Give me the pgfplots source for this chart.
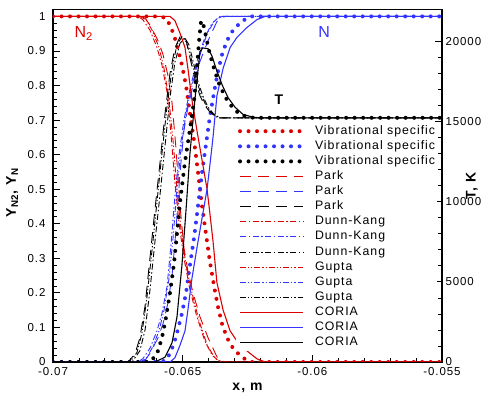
\documentclass[border=0pt]{standalone}
\usepackage{fontspec}
\setmainfont{Liberation Sans}[LetterSpace=8]
\usepackage{pgfplots}
\pgfplotsset{compat=1.18}
\definecolor{cred}{RGB}{221,0,0}
\definecolor{cblue}{RGB}{51,51,255}
\newcommand{\fs}{\fontsize{11.5bp}{13bp}\selectfont}
\newcommand{\fl}{\fontsize{12.3bp}{14bp}\selectfont}
\newcommand{\fb}{\fontsize{14bp}{16bp}\selectfont\bfseries}
\tikzset{
 vs/.style={line width=4bp, dash pattern=on 0bp off 8.5bp, line cap=round},
 pk/.style={line width=0.9bp, dash pattern=on 11bp off 7bp},
 dk/.style={line width=0.9bp, dash pattern=on 6bp off 2.5bp on 1.5bp off 2.5bp},
 gu/.style={line width=0.9bp, dash pattern=on 6bp off 2bp on 1.2bp off 2bp on 1.2bp off 2bp},
 co/.style={line width=1.1bp},
}
% Y_N2 (red) and Y_N (blue)
\pgfplotstableread{
x y
-0.07000 1.0
-0.06626 1.0
-0.06587 1.0
-0.06564 0.995
-0.06549 0.975
-0.06533 0.945
-0.06518 0.905
-0.06503 0.86
-0.06487 0.80
-0.06472 0.72
-0.06456 0.64
-0.06441 0.55
-0.06425 0.45
-0.06410 0.37
-0.06395 0.29
-0.06379 0.22
-0.06364 0.16
-0.06348 0.11
-0.06329 0.07
-0.06306 0.04
-0.06271 0.013
-0.06233 0.0
-0.05500 0.0
}\rVS
\pgfplotstableread{
x y
-0.07000 0.0
-0.06626 0.0
-0.06587 0.0
-0.06564 0.005
-0.06549 0.025
-0.06533 0.055
-0.06518 0.095
-0.06503 0.14
-0.06487 0.20
-0.06472 0.28
-0.06456 0.36
-0.06441 0.45
-0.06425 0.55
-0.06410 0.63
-0.06395 0.71
-0.06379 0.78
-0.06364 0.84
-0.06348 0.89
-0.06329 0.93
-0.06306 0.96
-0.06271 0.987
-0.06233 1.0
-0.05500 1.0
}\bVS
\pgfplotstableread{
x y
-0.07000 1.0
-0.06549 1.0
-0.06530 0.988
-0.06510 0.951
-0.06491 0.91
-0.06479 0.845
-0.06464 0.757
-0.06445 0.67
-0.06425 0.583
-0.06406 0.50
-0.06395 0.43
-0.06383 0.35
-0.06368 0.23
-0.06344 0.15
-0.06317 0.09
-0.06291 0.061
-0.06252 0.032
-0.06213 0.009
-0.06182 0.0
-0.05500 0.0
}\rCO
\pgfplotstableread{
x y
-0.07000 0.0
-0.06549 0.0
-0.06530 0.012
-0.06510 0.049
-0.06491 0.09
-0.06479 0.155
-0.06464 0.243
-0.06445 0.33
-0.06425 0.417
-0.06406 0.50
-0.06395 0.57
-0.06383 0.65
-0.06368 0.77
-0.06344 0.85
-0.06317 0.91
-0.06291 0.939
-0.06252 0.968
-0.06213 0.991
-0.06182 1.0
-0.05500 1.0
}\bCO
\pgfplotstableread{
x y
-0.07000 1.0
-0.06665 1.0
-0.06645 0.995
-0.06626 0.975
-0.06595 0.93
-0.06576 0.89
-0.06557 0.83
-0.06541 0.75
-0.06526 0.62
-0.06510 0.45
-0.06495 0.33
-0.06479 0.26
-0.06460 0.20
-0.06433 0.13
-0.06402 0.07
-0.06368 0.015
-0.06337 0.0
-0.05500 0.0
}\rPK
\pgfplotstableread{
x y
-0.07000 0.0
-0.06665 0.0
-0.06645 0.005
-0.06626 0.025
-0.06595 0.07
-0.06576 0.11
-0.06557 0.17
-0.06541 0.25
-0.06526 0.38
-0.06510 0.55
-0.06495 0.67
-0.06479 0.74
-0.06460 0.80
-0.06433 0.87
-0.06402 0.93
-0.06368 0.985
-0.06337 1.0
-0.05500 1.0
}\bPK
\pgfplotstableread{
x y
-0.07000 1.0
-0.06672 1.0
-0.06653 0.99
-0.06626 0.96
-0.06599 0.91
-0.06580 0.86
-0.06560 0.78
-0.06545 0.66
-0.06530 0.52
-0.06514 0.40
-0.06495 0.30
-0.06472 0.21
-0.06445 0.13
-0.06414 0.06
-0.06387 0.02
-0.06356 0.0
-0.05500 0.0
}\rDK
\pgfplotstableread{
x y
-0.07000 0.0
-0.06672 0.0
-0.06653 0.01
-0.06626 0.04
-0.06599 0.09
-0.06580 0.14
-0.06560 0.22
-0.06545 0.34
-0.06530 0.48
-0.06514 0.60
-0.06495 0.70
-0.06472 0.79
-0.06445 0.87
-0.06414 0.94
-0.06387 0.98
-0.06356 1.0
-0.05500 1.0
}\bDK
\pgfplotstableread{
x y
-0.07000 1.0
-0.06665 1.0
-0.06641 0.99
-0.06618 0.96
-0.06591 0.91
-0.06572 0.85
-0.06553 0.76
-0.06537 0.64
-0.06522 0.50
-0.06506 0.38
-0.06487 0.28
-0.06464 0.20
-0.06437 0.12
-0.06406 0.05
-0.06375 0.01
-0.06348 0.0
-0.05500 0.0
}\rGU
\pgfplotstableread{
x y
-0.07000 0.0
-0.06665 0.0
-0.06641 0.01
-0.06618 0.04
-0.06591 0.09
-0.06572 0.15
-0.06553 0.24
-0.06537 0.36
-0.06522 0.50
-0.06506 0.62
-0.06487 0.72
-0.06464 0.80
-0.06437 0.88
-0.06406 0.95
-0.06375 0.99
-0.06348 1.0
-0.05500 1.0
}\bGU
% Temperature, K
\pgfplotstableread{
x T
-0.07000 0
-0.06626 0
-0.06599 500
-0.06580 1500
-0.06564 2800
-0.06549 4300
-0.06533 6200
-0.06522 8000
-0.06510 10000
-0.06491 12500
-0.06472 14500
-0.06456 16300
-0.06445 18300
-0.06437 20000
-0.06429 21300
-0.06422 21200
-0.06410 20300
-0.06395 19200
-0.06375 18100
-0.06356 17200
-0.06329 16350
-0.06306 15850
-0.06279 15450
-0.06248 15280
-0.06221 15240
-0.05500 15240
}\kVS
\pgfplotstableread{
x T
-0.07000 0
-0.06607 0
-0.06568 300
-0.06541 1200
-0.06522 2800
-0.06503 6000
-0.06487 9500
-0.06472 13000
-0.06452 16500
-0.06433 19400
-0.06422 19600
-0.06402 19550
-0.06387 19100
-0.06371 18300
-0.06348 17300
-0.06325 16500
-0.06298 15900
-0.06267 15450
-0.06229 15280
-0.06202 15240
-0.05500 15240
}\kCO
\pgfplotstableread{
x T
-0.07000 0
-0.06711 0
-0.06684 500
-0.06665 1500
-0.06645 3500
-0.06626 6500
-0.06607 9500
-0.06587 12500
-0.06568 15500
-0.06549 18000
-0.06530 19600
-0.06510 20300
-0.06499 20400
-0.06487 20100
-0.06472 19000
-0.06452 17600
-0.06433 16600
-0.06414 16000
-0.06395 15600
-0.06375 15350
-0.06356 15240
-0.05500 15240
}\kPK
\pgfplotstableread{
x T
-0.07000 0
-0.06695 0
-0.06665 700
-0.06645 2000
-0.06626 4500
-0.06607 7500
-0.06587 10500
-0.06568 13500
-0.06549 16500
-0.06530 18700
-0.06510 19900
-0.06491 20200
-0.06476 19800
-0.06460 18800
-0.06441 17500
-0.06422 16600
-0.06402 15900
-0.06379 15450
-0.06356 15240
-0.05500 15240
}\kDK
\pgfplotstableread{
x T
-0.07000 0
-0.06703 0
-0.06676 600
-0.06657 1800
-0.06638 4000
-0.06618 7000
-0.06599 10000
-0.06580 13000
-0.06560 16000
-0.06541 18300
-0.06522 19800
-0.06503 20300
-0.06487 20000
-0.06468 19000
-0.06449 17700
-0.06429 16700
-0.06410 16000
-0.06387 15500
-0.06364 15240
-0.05500 15240
}\kGU
\begin{document}
\begin{tikzpicture}
\path[use as bounding box] (-53bp,-36bp) rectangle (434bp,362bp);
\pgfplotsset{
 common/.style={
  at={(0,0)}, anchor=south west, scale only axis,
  width=389bp, height=352.5bp,
  xmin=-0.07, xmax=-0.055,
  scaled x ticks=false, scaled y ticks=false,
  tick align=inside,
  major tick length=7bp, minor tick length=4bp,
  tick style={black, line width=0.8bp},
  axis line style={line width=1.2bp},
  ticklabel style={font=\fs},
  label style={font=\fb},
  /pgf/number format/assume math mode=true,
 }
}
\begin{axis}[common,
 ymin=0, ymax=1.02,
 xtick={-0.07,-0.065,-0.06,-0.055},
 xticklabels={-0.07,-0.065,-0.06,-0.055},
 minor x tick num=4,
 ytick={0,0.1,0.2,0.3,0.4,0.5,0.6,0.7,0.8,0.9,1},
 yticklabels={0,0.1,0.2,0.3,0.4,0.5,0.6,0.7,0.8,0.9,1},
 minor y tick num=4,
 xtick pos=left, ytick pos=left,
 yticklabel style={xshift=-4bp},
 xticklabel style={yshift=-2bp},
 xlabel={x, m},
 xlabel style={at={(axis description cs:0.5,-0.074)}, anchor=center},
 ylabel={Y\textsubscript{N2}, Y\textsubscript{N}},
 ylabel style={at={(axis description cs:-0.105,0.48)}, anchor=center},
]
\addplot[cred, vs] table {\rVS};
\addplot[cblue, vs] table {\bVS};
\addplot[cred, pk] table {\rPK};
\addplot[cblue, pk] table {\bPK};
\addplot[cred, dk] table {\rDK};
\addplot[cblue, dk] table {\bDK};
\addplot[cred, gu] table {\rGU};
\addplot[cblue, gu] table {\bGU};
\addplot[cred, co] table {\rCO};
\addplot[cblue, co] table {\bCO};
\node[text=cred, font=\fontsize{16bp}{18bp}\selectfont, anchor=west] at (axis cs:-0.0693,0.951) {N\textsubscript{2}};
\node[text=cblue, font=\fontsize{16bp}{18bp}\selectfont, anchor=west] at (axis cs:-0.0599,0.954) {N};
\end{axis}
\begin{axis}[common,
 ymin=0, ymax=22000,
 axis x line=none, axis y line*=right,
 ytick={0,5000,10000,15000,20000},
 yticklabels={0,5000,10000,15000,20000},
 minor y tick num=4,
 ylabel={T, K},
 ylabel style={at={(axis description cs:1.077,0.5)}, anchor=center},
 legend cell align=left,
 legend image code/.code={\draw[#1] (0bp,0bp) -- (63bp,0bp);},
 legend style={at={(axis description cs:0.47,0.678)}, anchor=north west,
   draw=none, fill=white, inner sep=2bp, font=\fl, row sep=3.1bp,
   nodes={inner sep=0bp, text height=9bp, text depth=3bp},
   /tikz/every odd column/.append style={column sep=10bp}},
]
\addplot[black, vs, forget plot] table {\kVS};
\addplot[black, pk, forget plot] table {\kPK};
\addplot[black, dk, forget plot] table {\kDK};
\addplot[black, gu, forget plot] table {\kGU};
\addplot[black, co, forget plot] table {\kCO};
\node[font=\fontsize{14bp}{16bp}\selectfont\bfseries] at (axis cs:-0.06129,16400) {T};
\addlegendimage{cred, vs}\addlegendentry{Vibrational specific}
\addlegendimage{cblue, vs}\addlegendentry{Vibrational specific}
\addlegendimage{black, vs}\addlegendentry{Vibrational specific}
\addlegendimage{cred, pk}\addlegendentry{Park}
\addlegendimage{cblue, pk}\addlegendentry{Park}
\addlegendimage{black, pk}\addlegendentry{Park}
\addlegendimage{cred, dk}\addlegendentry{Dunn-Kang}
\addlegendimage{cblue, dk}\addlegendentry{Dunn-Kang}
\addlegendimage{black, dk}\addlegendentry{Dunn-Kang}
\addlegendimage{cred, gu}\addlegendentry{Gupta}
\addlegendimage{cblue, gu}\addlegendentry{Gupta}
\addlegendimage{black, gu}\addlegendentry{Gupta}
\addlegendimage{cred, co}\addlegendentry{CORIA}
\addlegendimage{cblue, co}\addlegendentry{CORIA}
\addlegendimage{black, co}\addlegendentry{CORIA}
\end{axis}
\end{tikzpicture}
\end{document}
